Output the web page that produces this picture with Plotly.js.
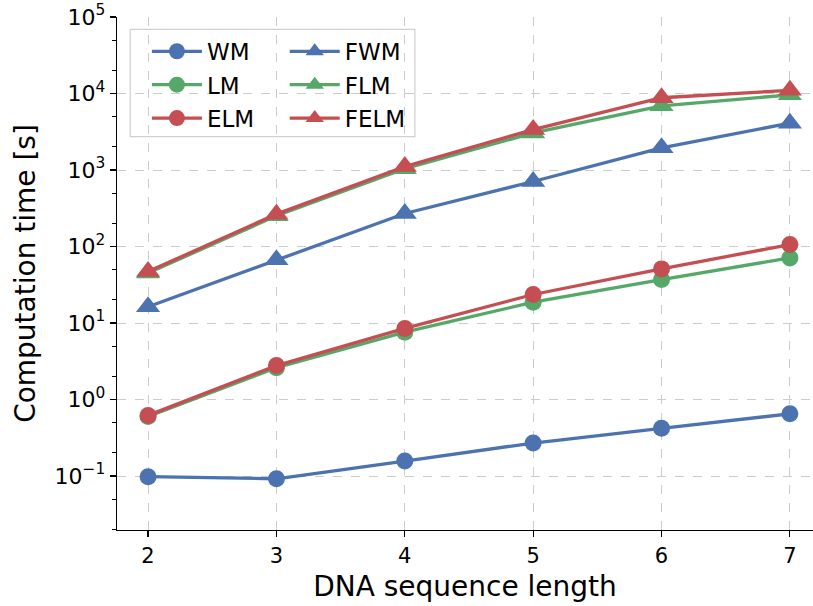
<!DOCTYPE html>
<html>
<head>
<meta charset="utf-8">
<script src="https://cdn.plot.ly/plotly-3.0.1.min.js"></script>
<style>html,body{margin:0;padding:0;background:#fff;}#chart{width:813px;height:606px;}</style>
</head>
<body>
<div id="chart"></div>
<script>
const lengths = [2, 3, 4, 5, 6, 7];
const WM   = [0.098, 0.092, 0.157, 0.27, 0.42, 0.65];
const LM   = [0.60, 2.6, 7.6, 18.7, 37, 71];
const ELM  = [0.62, 2.78, 8.5, 23.6, 51, 106];
const FWM  = [16.3, 67, 270, 708, 1950, 4100];
const FLM  = [45, 252, 1040, 3050, 6900, 9600];
const FELM = [47, 265, 1110, 3380, 8800, 11000];
const yTickVals = [0.1, 1, 10, 100, 1000, 10000, 100000];
const yTickText = ['10<sup>−1</sup>', '10<sup>0</sup>', '10<sup>1</sup>', '10<sup>2</sup>', '10<sup>3</sup>', '10<sup>4</sup>', '10<sup>5</sup>'];

const BLUE = '#4C72B0', GREEN = '#55A868', RED = '#C44E52';
function tr(name, y, color, symbol, legend, rank) {
  return {
    x: lengths, y: y, name: name, type: 'scatter', mode: 'lines+markers',
    line: {color: color, width: 3.3},
    marker: {color: color, symbol: symbol, size: symbol === 'circle' ? 17 : 21},
    legend: legend, legendrank: rank, legendgroup: name
  };
}
const data = [
  tr('WM', WM, BLUE, 'circle', 'legend', 1),
  tr('LM', LM, GREEN, 'circle', 'legend', 2),
  tr('ELM', ELM, RED, 'circle', 'legend', 3),
  tr('FWM', FWM, BLUE, 'triangle-up', 'legend2', 4),
  tr('FLM', FLM, GREEN, 'triangle-up', 'legend2', 5),
  tr('FELM', FELM, RED, 'triangle-up', 'legend2', 6)
];
const font = {family: 'DejaVu Sans', color: '#000'};
const legendCommon = {
  orientation: 'v', bgcolor: 'rgba(0,0,0,0)', borderwidth: 0,
  font: {family: 'DejaVu Sans', size: 23, color: '#000'},
  xref: 'paper', yref: 'paper', xanchor: 'left', yanchor: 'top',
  tracegroupgap: 0.5, traceorder: 'grouped', itemwidth: 50
};
const layout = {
  width: 813, height: 606,
  margin: {l: 117, r: 0, t: 17, b: 76},
  paper_bgcolor: '#fff', plot_bgcolor: '#fff',
  font: font,
  showlegend: true,
  xaxis: {
    type: 'linear', range: [1.758, 7.18],
    tickvals: lengths, ticks: 'outside', ticklen: 6, tickwidth: 1.2, tickcolor: '#000',
    tickfont: {family: 'DejaVu Sans', size: 21, color: '#000'},
    showgrid: true, gridcolor: '#cccccc', griddash: 'dash', gridwidth: 1,
    showline: true, linecolor: '#000', linewidth: 1.3, zeroline: false, mirror: false,
    title: {text: 'DNA sequence length', font: {family: 'DejaVu Sans', size: 28, color: '#000'}, standoff: 10}
  },
  yaxis: {
    type: 'log', range: [Math.log10(0.0197), 5],
    tickvals: yTickVals, ticktext: yTickText,
    ticks: 'outside', ticklen: 6, tickwidth: 1.2, tickcolor: '#000',
    tickfont: {family: 'DejaVu Sans', size: 22, color: '#000'},
    minor: {ticks: 'outside', ticklen: 3.5, tickwidth: 1, tickcolor: '#000', showgrid: false},
    showgrid: true, gridcolor: '#cccccc', griddash: 'dash', gridwidth: 1,
    showline: true, linecolor: '#000', linewidth: 1.3, zeroline: false, mirror: false,
    title: {text: 'Computation time [s]', font: {family: 'DejaVu Sans', size: 28, color: '#000'}, standoff: 10}
  },
  legend: Object.assign({}, legendCommon, {x: 0.043, y: 0.975}),
  legend2: Object.assign({}, legendCommon, {x: 0.241, y: 0.975}),
  shapes: [{
    type: 'rect', xref: 'paper', yref: 'paper', layer: 'below',
    x0: 0.019, x1: 0.428, y0: 0.767, y1: 0.976,
    line: {color: '#d0d0d0', width: 1.2}, fillcolor: 'rgba(255,255,255,0.8)'
  }]
};
Plotly.newPlot('chart', data, layout, {displayModeBar: false, staticPlot: true});
</script>
</body>
</html>
